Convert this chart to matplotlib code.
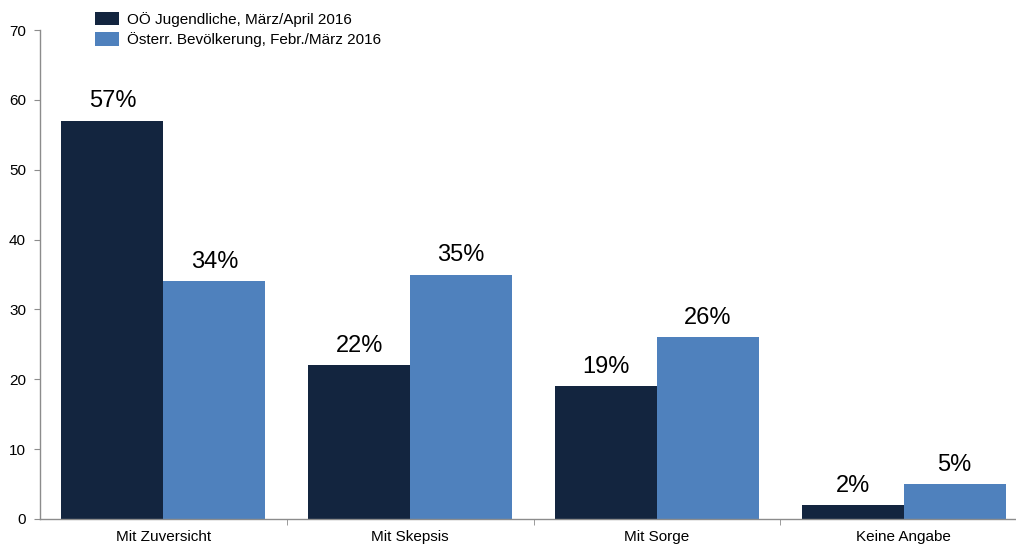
import matplotlib.pyplot as plt
import numpy as np

plt.rcParams['font.family'] = ['Liberation Sans', 'DejaVu Sans']

categories = ['Mit Zuversicht', 'Mit Skepsis', 'Mit Sorge', 'Keine Angabe']
jugendliche = [57, 22, 19, 2]
bevoelkerung = [34, 35, 26, 5]
series_labels = ['OÖ Jugendliche, März/April 2016',
                 'Österr. Bevölkerung, Febr./März 2016']

dark = '#13253f'
light = '#4f81bd'
grey = '#8c8c8c'

fig = plt.figure(figsize=(10.16, 5.48), dpi=100)
ax = fig.add_axes([40 / 1016, 29 / 548, 987 / 1016, 489 / 548])

x = np.arange(len(categories))
w = 0.413
b1 = ax.bar(x - w / 2, jugendliche, w, color=dark, label=series_labels[0])
b2 = ax.bar(x + w / 2, bevoelkerung, w, color=light, label=series_labels[1])

for bars, vals in ((b1, jugendliche), (b2, bevoelkerung)):
    for rect, v in zip(bars, vals):
        ax.text(rect.get_x() + rect.get_width() / 2, v + 1.2, f'{v}%',
                ha='center', va='bottom', fontsize=17, color='black')

ax.set_xlim(-0.5, 3.5)
ax.set_ylim(0, 70)
ax.set_yticks(range(0, 71, 10))
ax.set_xticks(x)
ax.set_xticklabels(categories, fontsize=11)
ax.set_xticks(np.arange(0.5, 3.5, 1), minor=True)
ax.tick_params(axis='x', which='major', length=0, pad=8)
ax.tick_params(axis='x', which='minor', length=4, color=grey, direction='out')
ax.tick_params(axis='y', length=4, color=grey, labelsize=11, pad=6)

for s in ('top', 'right'):
    ax.spines[s].set_visible(False)
for s in ('left', 'bottom'):
    ax.spines[s].set_color(grey)
    ax.spines[s].set_linewidth(1)

fig.legend(loc='upper left', bbox_to_anchor=(84 / 1016, 1.0 - 1 / 548),
           frameon=False, fontsize=11, handlelength=1.6, handleheight=1.0,
           handletextpad=0.5, labelspacing=0.35, borderaxespad=0.3)

fig.savefig('out.png', dpi=100)
